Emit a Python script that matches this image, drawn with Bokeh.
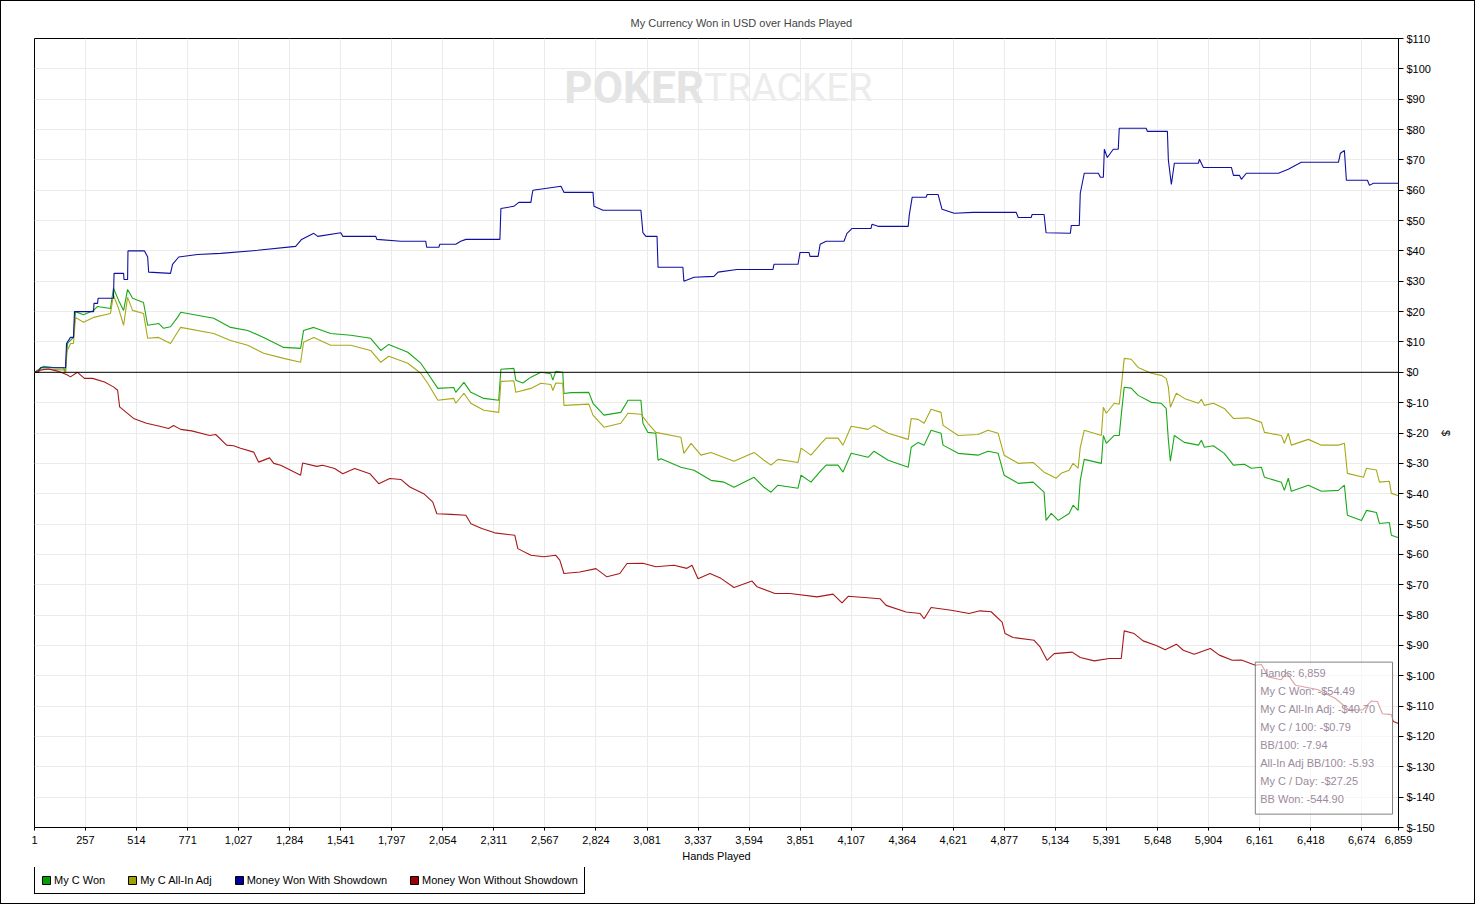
from bokeh.plotting import figure
from bokeh.layouts import column
from bokeh.models import (FixedTicker, Span, Legend, LegendItem, BoxAnnotation,
                          Label, Range1d, PrintfTickFormatter)
from bokeh.embed import file_html
from bokeh.resources import INLINE

FONT = "Liberation Sans"

# ---------------- data ----------------
hand_ticks = [1, 257, 514, 771, 1027, 1284, 1541, 1797, 2054, 2311, 2567, 2824, 3081, 3337,
              3594, 3851, 4107, 4364, 4621, 4877, 5134, 5391, 5648, 5904, 6161, 6418, 6674, 6859]
hand_tick_labels = ["1", "257", "514", "771", "1,027", "1,284", "1,541", "1,797", "2,054", "2,311",
                    "2,567", "2,824", "3,081", "3,337", "3,594", "3,851", "4,107", "4,364", "4,621",
                    "4,877", "5,134", "5,391", "5,648", "5,904", "6,161", "6,418", "6,674", "6,859"]
usd_ticks = list(range(-150, 111, 10))

series_names = ["My C Won", "My C All-In Adj", "Money Won With Showdown", "Money Won Without Showdown"]

# (hands, USD)
my_c_won = [
    (1, 0), (46, 2), (107, 1.5), (147, 1.5), (157, 0), (167, 9.5), (197, 11.5), (207, 20),
    (247, 19), (298, 20.4), (318, 21.7), (383, 21), (398, 27.7), (424, 23.7), (449, 20.4),
    (469, 27.3), (494, 24.4), (549, 23), (570, 15.5), (625, 16.1), (650, 14.5), (685, 15),
    (720, 18.1), (736, 19.8), (902, 17.8), (987, 14.8), (1073, 13.8), (1153, 11.5), (1254, 8.2),
    (1339, 7.9), (1354, 13.8), (1405, 14.8), (1490, 12.8), (1591, 12.2), (1691, 11.2),
    (1742, 7.2), (1782, 9.2), (1878, 6.6), (1943, 3), (1978, -0.3), (2029, -5.3), (2109, -5),
    (2119, -6.6), (2160, -3.3), (2195, -6.6), (2260, -8.6), (2335, -9.2), (2346, 1), (2411, 1.3),
    (2421, -2.6), (2456, -3.5), (2497, -1.6), (2547, 0), (2597, -0.5), (2607, -2.6), (2622, 0.3),
    (2657, 0), (2663, -7), (2698, -6.7), (2788, -6.6), (2809, -10.2), (2864, -14.1),
    (2949, -13.2), (2985, -9.2), (3050, -9.2), (3060, -16.8), (3085, -19.8), (3125, -20.1),
    (3136, -29), (3151, -28.5), (3251, -31.3), (3317, -32.3), (3402, -35.6), (3468, -36.2),
    (3518, -37.9), (3619, -34.6), (3669, -37.9), (3704, -39.5), (3739, -37.2), (3840, -38.2),
    (3855, -33.9), (3905, -36.2), (3956, -32.3), (3981, -30.6), (4041, -30.6), (4066, -32.9),
    (4107, -26.7), (4192, -28), (4222, -26), (4293, -29), (4394, -31.3), (4409, -24.7),
    (4444, -23.1), (4474, -24), (4509, -19.1), (4559, -20.1), (4569, -24), (4645, -26.7),
    (4745, -27.3), (4795, -26), (4846, -26.7), (4876, -33.9), (4947, -36.6), (5022, -36.2),
    (5077, -39.5), (5087, -48.8), (5113, -46.5), (5148, -48.8), (5203, -46.5), (5223, -43.8),
    (5248, -45.5), (5259, -35.6), (5279, -28.7), (5365, -30), (5375, -20.8), (5390, -23.4),
    (5430, -20.8), (5455, -20.8), (5465, -14.1), (5480, -4.9), (5515, -5.2), (5550, -7.6),
    (5616, -9.9), (5666, -10.2), (5691, -11.9), (5702, -22.4), (5712, -29.3), (5732, -20.8),
    (5782, -23.1), (5853, -24), (5868, -22.4), (5883, -24.7), (5928, -24.2), (5983, -26.7),
    (6029, -30.6), (6084, -30.3), (6119, -31.6), (6170, -31.3), (6185, -34.6), (6270, -36.2),
    (6285, -38.9), (6305, -34.9), (6320, -39.2), (6406, -37.2), (6471, -39.2), (6557, -38.9),
    (6587, -37.2), (6602, -47.1), (6673, -48.8), (6698, -45.5), (6748, -46.2), (6763, -49.8),
    (6813, -49.5), (6823, -53.7), (6859, -54.5),
]

my_c_allin_adj = [
    (1, 0), (46, 1), (147, 0.8), (157, 0), (162, 6.6), (182, 9.5), (197, 9.5), (207, 18.1),
    (247, 16.5), (298, 18.1), (383, 19.4), (398, 25.4), (424, 21), (449, 15.5), (469, 24.7),
    (494, 20.4), (549, 19.4), (570, 11.2), (625, 11.5), (685, 9.5), (720, 13.2), (736, 14.8),
    (902, 12.8), (987, 10.5), (1073, 8.9), (1153, 6.3), (1254, 4.6), (1339, 3.3), (1354, 9.9),
    (1405, 11.5), (1490, 8.9), (1591, 8.9), (1691, 7.2), (1742, 3.3), (1782, 5.3), (1878, 3),
    (1943, -0.3), (1978, -3.6), (2029, -9.2), (2109, -8.6), (2119, -10.2), (2160, -6.9),
    (2195, -10.2), (2260, -12.5), (2335, -13.2), (2346, -3), (2411, -2.8), (2421, -6.6),
    (2497, -5.3), (2547, -3.6), (2597, -4), (2607, -6), (2622, -3.5), (2657, -3.6),
    (2663, -10.9), (2788, -10.5), (2809, -14.1), (2864, -18.1), (2949, -16.8), (2985, -13.5),
    (3050, -13.8), (3085, -16.8), (3125, -19.8), (3251, -21.4), (3266, -26.7), (3302, -23.4),
    (3352, -27.3), (3402, -26.4), (3518, -29.3), (3619, -26.4), (3669, -29), (3704, -30.6),
    (3739, -28.7), (3840, -29.7), (3855, -25), (3905, -27.3), (3956, -23.4), (3981, -21.7),
    (4041, -21.7), (4066, -24), (4107, -17.8), (4192, -18.8), (4222, -17.5), (4293, -20.1),
    (4394, -22.1), (4409, -15.2), (4444, -15.5), (4474, -16.8), (4509, -12.2), (4559, -13.2),
    (4569, -17.5), (4645, -20.8), (4745, -20.5), (4795, -19.1), (4846, -20.1), (4876, -27.3),
    (4947, -30), (5022, -29.7), (5077, -32.9), (5128, -34.6), (5138, -34.9), (5163, -33.3),
    (5203, -32.3), (5223, -30), (5248, -31.6), (5259, -24.7), (5279, -19.1), (5365, -20.8),
    (5375, -11.5), (5390, -13.5), (5430, -10.2), (5455, -10.5), (5465, -4.9), (5480, 4.6),
    (5515, 4.3), (5550, 1.6), (5616, -0.3), (5666, -1), (5691, -2), (5702, -4.9), (5712, -11.5),
    (5742, -6.9), (5782, -8.6), (5853, -10.2), (5868, -8.9), (5883, -10.9), (5928, -10.2),
    (5983, -11.9), (6029, -15.2), (6104, -15), (6170, -16.5), (6185, -19.8), (6270, -20.8),
    (6285, -23.4), (6305, -20.1), (6320, -24), (6406, -22.1), (6471, -24), (6557, -24),
    (6587, -23.4), (6602, -33.3), (6683, -34.6), (6698, -31.6), (6748, -32.2), (6763, -36.2),
    (6813, -35.9), (6823, -39.9), (6859, -40.7),
]

won_with_showdown = [
    (1, 0), (21, 0), (31, 1.5), (157, 1.5), (162, 9.5), (182, 11.5), (197, 11.5), (202, 20),
    (298, 20), (300, 22.7), (318, 22.7), (321, 24.4), (398, 24.4), (401, 32.6), (449, 32.6),
    (451, 30.6), (469, 30.6), (471, 40), (554, 40), (570, 38), (575, 33), (685, 32.6),
    (695, 35.6), (726, 38), (821, 38.8), (937, 39.2), (1123, 40.2), (1314, 41.5), (1344, 43.8),
    (1405, 45.8), (1425, 44.8), (1541, 46), (1551, 44.8), (1717, 44.8), (1722, 43.8),
    (1843, 43.2), (1968, 43.2), (1973, 41.2), (2034, 41.2), (2039, 42.2), (2119, 42.2),
    (2144, 43.2), (2170, 43.8), (2341, 43.8), (2346, 54), (2411, 54.7), (2436, 56), (2497, 56),
    (2502, 58.3), (2507, 60), (2648, 61.3), (2663, 59.3), (2809, 59.3), (2814, 54.7),
    (2859, 53.4), (3050, 53.4), (3060, 46), (3075, 44.8), (3131, 44.8), (3136, 34.6),
    (3261, 34.6), (3266, 30), (3317, 31.3), (3417, 31.6), (3438, 33), (3533, 33.9), (3714, 33.9),
    (3719, 35.6), (3840, 35.6), (3850, 39.5), (3895, 39.5), (3900, 38.2), (3941, 38.2),
    (3951, 42.2), (3981, 43.2), (4071, 43.2), (4086, 45.8), (4112, 47.4), (4207, 47.4),
    (4212, 48.8), (4242, 48.1), (4394, 48.1), (4399, 51.7), (4414, 57.7), (4484, 57.7),
    (4489, 58.6), (4544, 58.6), (4564, 53.7), (4625, 52.4), (4720, 52.7), (4937, 52.7),
    (4947, 51), (5012, 51), (5017, 52), (5077, 52), (5087, 46), (5209, 45.8), (5214, 48.4),
    (5254, 48.4), (5259, 59), (5279, 65.6), (5350, 65.6), (5360, 64.3), (5375, 64.3),
    (5380, 73.5), (5395, 70.8), (5425, 73.5), (5450, 73.5), (5455, 80.4), (5591, 80.4),
    (5596, 79.4), (5697, 79.4), (5702, 69.9), (5717, 61.9), (5732, 68.9), (5853, 68.9),
    (5858, 70.2), (5878, 67.5), (6019, 67.5), (6029, 64.9), (6059, 64.9), (6069, 63.6),
    (6094, 65.6), (6255, 65.6), (6305, 66.9), (6370, 69.2), (6557, 69.2), (6567, 72.2),
    (6587, 73.1), (6597, 63.3), (6703, 63.3), (6713, 61.6), (6733, 62.3), (6859, 62.3),
]

won_without_showdown = [
    (1, 0), (26, 0.7), (71, 1.1), (117, 0.4), (162, -0.7), (182, -1.5), (217, 0), (252, -2),
    (293, -2), (353, -3.2), (398, -4.8), (419, -5.9), (429, -11.4), (499, -15.2), (564, -16.8),
    (630, -17.8), (675, -18.5), (700, -17.5), (736, -18.8), (791, -19.3), (882, -20.8),
    (912, -20.5), (967, -24), (1002, -24.2), (1037, -25), (1103, -26.3), (1128, -29.6),
    (1183, -28.2), (1204, -30), (1239, -30.6), (1304, -32.8), (1339, -33.9), (1349, -29.9),
    (1420, -31), (1450, -30.6), (1510, -31.7), (1551, -33.4), (1611, -31.7), (1687, -33.4),
    (1732, -36.7), (1787, -35), (1843, -35.3), (1888, -37.8), (1958, -40), (2003, -42.7),
    (2024, -46.6), (2094, -46.8), (2170, -47.1), (2195, -49.9), (2250, -51.5), (2315, -52.9),
    (2416, -53.7), (2431, -58.1), (2497, -60.3), (2562, -60.8), (2622, -60.3), (2642, -61.9),
    (2663, -66.3), (2743, -65.8), (2824, -64.7), (2879, -67.4), (2944, -66.3), (2980, -63),
    (3060, -62.9), (3125, -64.1), (3216, -63.6), (3281, -64.6), (3307, -63.6), (3337, -68),
    (3397, -66.3), (3452, -67.9), (3518, -70.9), (3609, -68.8), (3634, -70.7), (3724, -72.9),
    (3800, -72.9), (3936, -74), (4016, -73.1), (4061, -76), (4092, -73.8), (4252, -74.6),
    (4283, -76.8), (4383, -79), (4454, -79.5), (4474, -81.2), (4509, -77.5), (4610, -78.4),
    (4700, -79.5), (4755, -78.6), (4811, -78.9), (4866, -82.3), (4881, -86.1), (4921, -87.4),
    (5027, -88.3), (5057, -90.5), (5092, -94.9), (5128, -92.7), (5218, -92.2), (5259, -94),
    (5329, -95.1), (5405, -94.3), (5465, -94.3), (5480, -85.2), (5530, -86.1), (5575, -88.5),
    (5641, -90), (5686, -91.4), (5742, -89.6), (5777, -91.6), (5832, -92.9), (5913, -91),
    (5958, -93.2), (6023, -94.9), (6069, -94.8), (6139, -96.5), (6170, -96.3), (6205, -100.4),
    (6270, -101.3), (6295, -99), (6341, -103.1), (6451, -104.5), (6542, -107.5), (6607, -111.1),
    (6678, -111.3), (6723, -108.3), (6753, -108.5), (6778, -112.5), (6823, -112.8),
    (6833, -115.1), (6859, -115.7),
]

info_lines = ["Hands: 6,859", "My C Won: -$54.49", "My C All-In Adj: -$40.70",
              "My C / 100: -$0.79", "BB/100: -7.94", "All-In Adj BB/100: -5.93",
              "My C / Day: -$27.25", "BB Won: -544.90"]

# ---------------- styling ----------------
line_colors = ["#18a818", "#a8a818", "#1010a0", "#a81818"]
swatch_colors = ["#00a000", "#a0a000", "#0000a0", "#a00000"]

p = figure(width=1473, height=866, output_backend="svg", toolbar_location=None,
           x_range=Range1d(1, 6859), y_range=Range1d(-150, 110),
           y_axis_location="right",
           min_border_left=33, min_border_top=37, min_border_right=76, min_border_bottom=40,
           background_fill_color="white", border_fill_color="white")

p.title.text = "My Currency Won in USD over Hands Played"
p.title.text_font = FONT
p.title.text_font_size = "11px"
p.title.text_font_style = "normal"
p.title.align = "left"
p.title.offset = 596
p.title.standoff = 20

p.outline_line_color = "black"
p.outline_line_width = 1
p.outline_line_alpha = 1

# x axis
xa = p.xaxis[0]
xa.ticker = FixedTicker(ticks=hand_ticks)
xa.major_label_overrides = {t: l for t, l in zip(hand_ticks, hand_tick_labels)}
xa.axis_label = "Hands Played"
xa.minor_tick_line_color = None
xa.major_tick_out = 3
xa.major_tick_in = 0
xa.major_label_standoff = 5
xa.axis_label_standoff = 3
xa.axis_line_color = "black"
xa.major_tick_line_color = "black"
xa.major_label_text_font = FONT
xa.major_label_text_font_size = "11px"
xa.major_label_text_color = "black"
xa.axis_label_text_font = FONT
xa.axis_label_text_font_size = "11px"
xa.axis_label_text_font_style = "normal"
xa.axis_label_text_color = "black"

# y axis (right)
ya = p.yaxis[0]
ya.ticker = FixedTicker(ticks=usd_ticks)
ya.formatter = PrintfTickFormatter(format="$%d")
ya.axis_label = "$"
ya.minor_tick_line_color = None
ya.major_tick_out = 5
ya.major_tick_in = 0
ya.major_label_standoff = 3
ya.axis_label_standoff = 2
ya.axis_line_color = "black"
ya.major_tick_line_color = "black"
ya.major_label_text_font = FONT
ya.major_label_text_font_size = "11px"
ya.major_label_text_color = "black"
ya.axis_label_text_font = FONT
ya.axis_label_text_font_size = "11px"
ya.axis_label_text_font_style = "normal"
ya.axis_label_text_color = "black"

p.xgrid.grid_line_color = "#ebebeb"
p.ygrid.grid_line_color = "#ebebeb"

# watermark
p.add_layout(Label(x=3367, y=93.6, text="POKER", text_align="right", text_baseline="middle",
                   text_font="Roboto", text_font_size="44px", text_font_style="bold",
                   text_color="#e4e4e4", level="underlay"))
p.add_layout(Label(x=3367, y=93.6, text="TRACKER", text_align="left", text_baseline="middle",
                   text_font="Roboto", text_font_size="39px", text_font_style="normal",
                   text_color="#ececec", level="underlay"))

# series lines
all_series = [my_c_won, my_c_allin_adj, won_with_showdown, won_without_showdown]
for pts, col in zip(all_series, line_colors):
    xs = [h for h, v in pts]
    ys = [v for h, v in pts]
    p.line(xs, ys, line_color=col, line_width=1.1)

# zero line
p.add_layout(Span(location=0, dimension="width", line_color="black", line_width=1))

# info box
p.add_layout(BoxAnnotation(left=6139, right=6829, top=-95.5, bottom=-145.6,
                           fill_color="white", fill_alpha=0.6,
                           line_color="#808080", line_width=1, line_alpha=1))
info_top = -99.2
info_step = 5.93
for i, t in enumerate(info_lines):
    p.add_layout(Label(x=6164, y=info_top - i * info_step, text=t, text_align="left",
                       text_baseline="middle", text_font=FONT, text_font_size="11px",
                       text_color="#9c8a9c"))

# ---------------- legend strip (second figure under the chart) ----------------
q = figure(width=1473, height=36, output_backend="svg", toolbar_location=None,
           x_range=Range1d(0, 1), y_range=Range1d(0, 1), x_axis_type=None, y_axis_type=None,
           min_border_left=0, min_border_right=0, min_border_top=0, min_border_bottom=0,
           background_fill_color="white", border_fill_color="white")
q.outline_line_color = None
q.xgrid.visible = False
q.ygrid.visible = False
items = []
for name, col in zip(series_names, swatch_colors):
    r = q.quad(left=[float("nan")], right=[float("nan")], top=[float("nan")],
               bottom=[float("nan")], fill_color=col, line_color="black", line_width=1)
    items.append(LegendItem(label=name, renderers=[r]))
legend = Legend(items=items, orientation="horizontal", location=(0, 9),
                border_line_color="black", border_line_width=1, border_line_alpha=1,
                background_fill_color="white", background_fill_alpha=1,
                label_text_font=FONT, label_text_font_size="11px", label_text_color="black",
                glyph_width=10, glyph_height=10, label_standoff=3, spacing=22,
                padding=6, margin=0, label_height=14)
q.add_layout(legend, "center")

page = column(p, q, spacing=0, styles={"border": "1px solid black"})

open("out.html", "w").write(file_html(page, INLINE))
